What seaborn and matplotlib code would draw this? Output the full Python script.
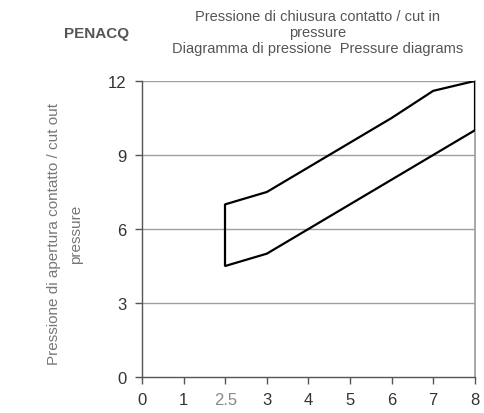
import seaborn as sns
import matplotlib.pyplot as plt
import pandas as pd

x_labels = ["0", "1", "2.5", "3", "4", "5", "6", "7", "8"]
pressures = ["2.5", "3", "4", "5", "6", "7", "8"]
cut_in = [7.0, 7.5, 8.5, 9.5, 10.5, 11.6, 12.0]
cut_out = [4.5, 5.0, 6.0, 7.0, 8.0, 9.0, 10.0]
y_ticks = [0, 3, 6, 9, 12]

sns.set_style("white")
plt.rcParams["font.family"] = ["Liberation Sans", "DejaVu Sans"]

df = pd.DataFrame({
    "pos": [x_labels.index(p) for p in pressures],
    "cut_in": cut_in,
    "cut_out": cut_out,
})

fig = plt.figure(figsize=(4.85, 4.14), dpi=100)
ax = fig.add_axes([0.293, 0.087, 0.686, 0.715])

# griglia orizzontale
for t in y_ticks[1:]:
    ax.axhline(t, color="#a0a0a0", lw=1.0, zorder=1)

sns.lineplot(data=df, x="pos", y="cut_in", ax=ax, color="black", lw=1.6, zorder=3)
sns.lineplot(data=df, x="pos", y="cut_out", ax=ax, color="black", lw=1.6, zorder=3)
# chiusura verticale ai due estremi
first, last = df.iloc[0], df.iloc[-1]
ax.vlines([first["pos"], last["pos"]], [first["cut_out"], last["cut_out"]],
          [first["cut_in"], last["cut_in"]], color="black", lw=1.6, zorder=3)

ax.set_xlim(0, len(x_labels) - 1)
ax.set_ylim(0, 12)
ax.set_xticks(range(len(x_labels)))
ax.set_xticklabels(x_labels)
ax.set_yticks(y_ticks)
ax.tick_params(axis="both", direction="out", length=5, width=1, color="#555555",
               labelsize=12, labelcolor="#333333", pad=6, bottom=True, left=True)
ax.get_xticklabels()[2].set_color("#888888")

for s in ["left", "bottom"]:
    ax.spines[s].set_color("#555555")
    ax.spines[s].set_linewidth(1.0)
ax.spines["right"].set_color("#999999")
ax.spines["right"].set_linewidth(1.2)
ax.spines["top"].set_visible(False)

ax.set_xlabel("")
ax.set_ylabel("Pressione di apertura contatto / cut out\npressure",
              fontsize=11, color="#777777", linespacing=1.75)
ax.yaxis.set_label_coords(-0.177, 0.485)

fig.text(0.655, 0.92, "Pressione di chiusura contatto / cut in\npressure\n"
         "Diagramma di pressione  Pressure diagrams",
         ha="center", va="center", multialignment="center",
         fontsize=10.5, color="#555555", linespacing=1.2)
fig.text(0.132, 0.918, "PENACQ", ha="left", va="center", fontsize=11,
         fontweight="bold", color="#555555")

fig.savefig("out.png", dpi=100)
